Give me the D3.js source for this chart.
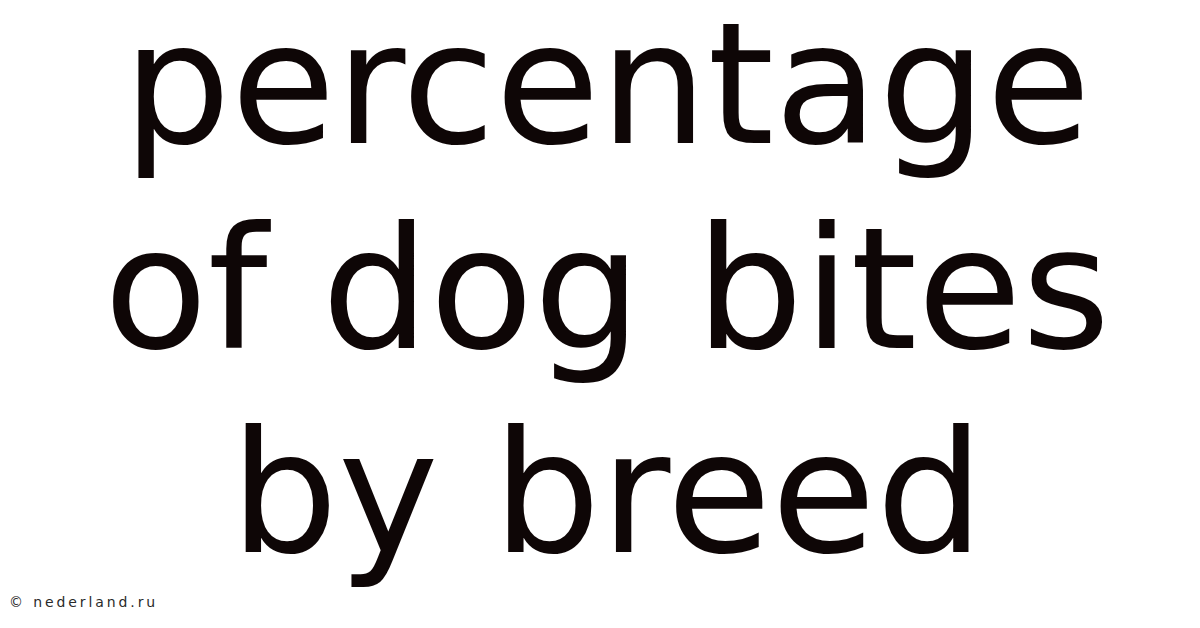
<!DOCTYPE html>
<html><head><meta charset="utf-8">
<script src="https://cdn.jsdelivr.net/npm/d3@7"></script>
<style>html,body{margin:0;padding:0;background:#fff;overflow:hidden}</style>
</head><body>
<script>
const titleLines = ["percentage", "of dog bites", "by breed"];
const credit = "© nederland.ru";

const W = 1200, H = 628;
const svg = d3.select("body").append("svg").attr("width", W).attr("height", H);
svg.append("rect").attr("width", W).attr("height", H).attr("fill", "#ffffff");

const y = d3.scalePoint().domain(titleLines).range([143, 552]);

svg.selectAll("text.title").data(titleLines).join("text")
  .attr("class", "title")
  .attr("x", 607)
  .attr("y", d => y(d))
  .attr("text-anchor", "middle")
  .attr("font-family", "DejaVu Sans")
  .attr("font-size", 170)
  .attr("fill", "#0e0606")
  .text(d => d);

svg.append("text")
  .attr("x", 9).attr("y", 607)
  .attr("font-family", "DejaVu Sans")
  .attr("font-size", 14)
  .attr("letter-spacing", 2.9)
  .attr("fill", "#2a2a2a")
  .text(credit);
</script>
</body></html>
